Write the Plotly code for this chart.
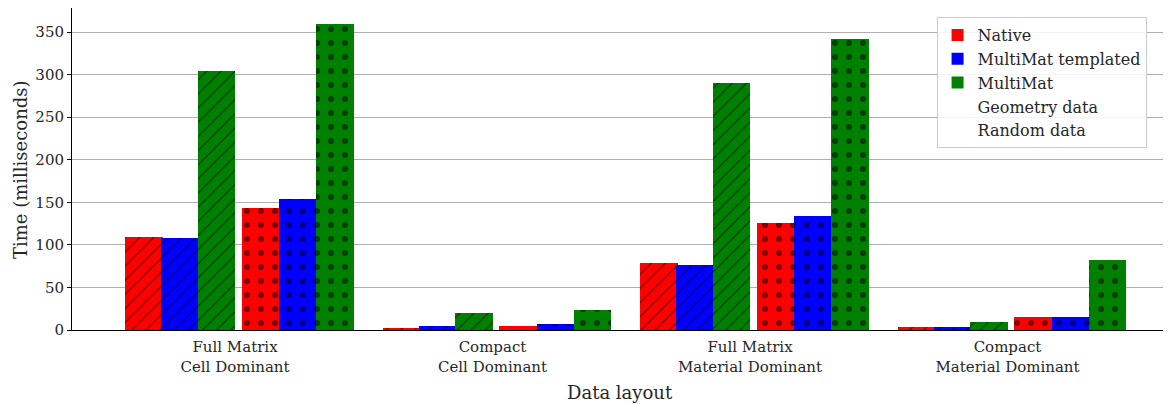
import plotly.graph_objects as go

categories = ["Full Matrix<br>Cell Dominant", "Compact<br>Cell Dominant",
              "Full Matrix<br>Material Dominant", "Compact<br>Material Dominant"]
cat_pos = [0, 1, 2, 3]

series_names = ["Native", "MultiMat templated", "MultiMat"]
colors = ["#ff0000", "#0000ff", "#008000"]

# Geometry data (hatched)
geometry_native = [109, 2.3, 79, 3.5]
geometry_templated = [108, 4.7, 76, 3.6]
geometry_multimat = [304, 20, 290, 9.8]
# Random data (dotted)
random_native = [143, 4.6, 126, 15]
random_templated = [154, 7, 134, 15]
random_multimat = [360, 23.5, 342, 82]

geometry = [geometry_native, geometry_templated, geometry_multimat]
random_ = [random_native, random_templated, random_multimat]

bar_w = 0.1456
geo_offsets = [-0.427, -0.287, -0.145]
rnd_offsets = [0.027, 0.171, 0.315]

font = "DejaVu Serif"
fig = go.Figure()

for vals, col, off in zip(geometry, colors, geo_offsets):
    fig.add_trace(go.Bar(
        x=cat_pos, y=vals, width=bar_w, offset=off, showlegend=False,
        marker=dict(color=col, line=dict(width=0),
                    pattern=dict(shape="/", fgcolor="black", size=10, solidity=0.12)),
    ))
for vals, col, off in zip(random_, colors, rnd_offsets):
    fig.add_trace(go.Bar(
        x=cat_pos, y=vals, width=bar_w, offset=off, showlegend=False,
        marker=dict(color=col, line=dict(width=0),
                    pattern=dict(shape=".", fgcolor="black", size=14, solidity=0.15)),
    ))

# legend entries
for name, col in zip(series_names, colors):
    fig.add_trace(go.Bar(x=[None], y=[None], name=name,
                         marker=dict(color=col, line=dict(width=0))))
for name in ["Geometry data", "Random data"]:
    fig.add_trace(go.Bar(x=[None], y=[None], name=name,
                         marker=dict(color="white", line=dict(width=0))))

fig.update_layout(
    width=1171, height=404,
    margin=dict(l=64, r=0, t=0, b=82),
    plot_bgcolor="white", paper_bgcolor="white",
    font=dict(family=font, size=15, color="#262626"),
    barmode="overlay",
    bargap=0,
    legend=dict(x=0.781, y=0.972, xanchor="left", yanchor="top",
                bgcolor="rgba(255,255,255,0.85)", bordercolor="#cccccc", borderwidth=1,
                font=dict(family=font, size=16), tracegroupgap=0),
    annotations=[
        dict(text="Data layout", xref="paper", yref="paper", x=(620 - 72) / 1107, y=-0.193,
             xanchor="center", yanchor="middle", showarrow=False,
             font=dict(family=font, size=18)),
        dict(text="Time (milliseconds)", xref="paper", yref="paper",
             x=-0.047, y=0.5, xanchor="center", yanchor="middle", textangle=-90,
             showarrow=False, font=dict(family=font, size=18)),
    ],
)
fig.update_xaxes(
    range=[-0.633, 3.666], tickvals=cat_pos, ticktext=categories,
    showline=True, linecolor="black", linewidth=1, mirror=True,
    ticks="", showgrid=False, zeroline=False, automargin=False,
    ticklabelstandoff=3,
)
fig.update_yaxes(
    range=[0, 378.2], tickvals=[0, 50, 100, 150, 200, 250, 300, 350],
    showline=True, linecolor="black", linewidth=1, mirror=True,
    ticks="outside", ticklen=4, tickcolor="black",
    showgrid=True, gridcolor="#b0b0b0", gridwidth=1, zeroline=False,
    automargin=False,
)

fig.write_html("out.html")
